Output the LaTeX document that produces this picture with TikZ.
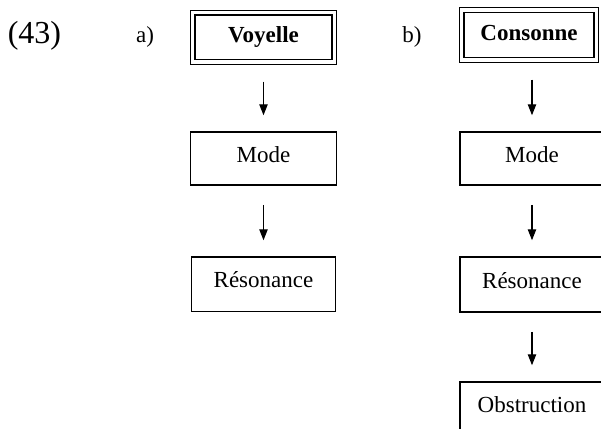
\documentclass[tikz,border=0pt]{standalone}
\usepackage{fontspec}
\setmainfont{Liberation Serif}
\usetikzlibrary{arrows.meta}

\begin{document}
\begin{tikzpicture}[x=0.5pt,y=-0.5pt,
  cell/.style={rectangle,draw=black,line width=0.75pt,inner sep=0pt,
    font=\fontsize{11.5}{14}\selectfont,text height=8pt,text depth=4.5pt},
  headcell/.style={cell,line width=0.7pt,double,double distance=1.6pt,
    font=\fontsize{11.5}{14}\selectfont\bfseries,text depth=2.5pt},
  lbl/.style={anchor=base,inner sep=0pt,font=\fontsize{11.5}{14}\selectfont},
  arr/.style={-{Triangle[length=5.5pt,width=4.2pt]},line width=0.6pt,
    shorten <=9.5pt,shorten >=8pt}
]
\useasboundingbox (0,0) rectangle (601,429);
\clip (0,0) rectangle (601,429);
% ---- example number and panel tags
\node[lbl,font=\fontsize{16}{19}\selectfont] (num) at (34.5,43) {(43)};
\node[lbl] (taga) at (145,42) {a)};
\node[lbl] (tagb) at (412,42) {b)};
% ---- panel a : voyelle
\node[headcell,minimum width=70.75pt,minimum height=24.75pt] (voy) at (263.5,37.25) {Voyelle};
\node[cell,minimum width=73pt,minimum height=26.5pt] (moda) at (263.5,158.5) {Mode};
\node[cell,minimum width=72pt,minimum height=27.25pt] (resa) at (263.5,284.25) {Résonance};
\draw[arr] (voy) -- (moda);
\draw[arr] (moda) -- (resa);
% ---- panel b : consonne
\node[headcell,minimum width=67.25pt,minimum height=25pt] (cons) at (529,35) {Consonne};
\node[cell,minimum width=72pt,minimum height=26.5pt] (modb) at (532,158.5) {Mode};
\node[cell,minimum width=72pt,minimum height=27.5pt] (resb) at (532,284.5) {Résonance};
\node[cell,minimum width=72pt,minimum height=27pt] (obs) at (532,409) {Obstruction};
\draw[arr] (cons.south -| modb.north) -- (modb.north);
\draw[arr] (modb) -- (resb);
\draw[arr] (resb) -- (obs);
\end{tikzpicture}
\end{document}
